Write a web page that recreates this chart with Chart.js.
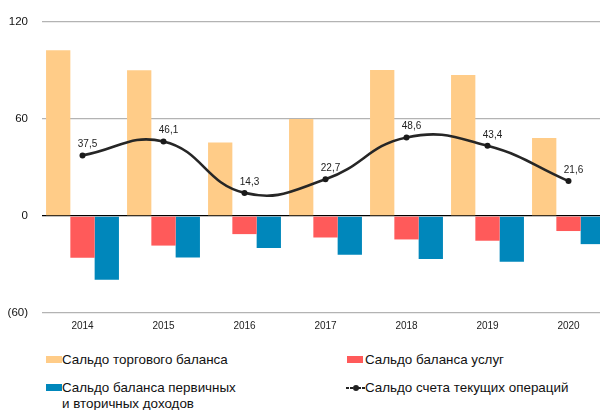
<!DOCTYPE html>
<html><head><meta charset="utf-8">
<script src="https://cdn.jsdelivr.net/npm/chart.js@4/dist/chart.umd.min.js"></script>
<style>
html,body{margin:0;padding:0;background:#fff;width:600px;height:410px;overflow:hidden;}
#wrap{position:absolute;left:0;top:0;width:620px;height:340px;}
.lg{position:absolute;font-family:"Liberation Sans",Arial,sans-serif;font-size:13.4px;color:#111;line-height:16px;white-space:nowrap;}
.box{position:absolute;width:16px;height:7px;}
</style></head>
<body>
<div id="wrap"><canvas id="c" width="620" height="340"></canvas></div>
<div class="box" style="left:46px;top:356px;background:#FFCC88"></div>
<div class="lg" style="left:62px;top:352px">Сальдо торгового баланса</div>
<div class="box" style="left:347px;top:356px;background:#FF5A5A"></div>
<div class="lg" style="left:365px;top:352px">Сальдо баланса услуг</div>
<div class="box" style="left:46px;top:384px;background:#0087BB"></div>
<div class="lg" style="left:62px;top:380px">Сальдо баланса первичных<br>и вторичных доходов</div>
<svg style="position:absolute;left:346px;top:381px" width="20" height="14"><line x1="0" y1="7" x2="20" y2="7" stroke="#222" stroke-width="2" stroke-dasharray="3,1"/><circle cx="10" cy="7" r="3" fill="#222"/></svg>
<div class="lg" style="left:365px;top:380px">Сальдо счета текущих операций</div>
<script>
const years = ['2014','2015','2016','2017','2018','2019','2020'];
const tradeBalance = [102.5, 90.2, 45.5, 60.0, 90.3, 87.2, 48.3];
const servicesBalance = [-25.8, -18.3, -11.2, -13.3, -14.5, -15.3, -9.3];
const incomeBalance = [-39.4, -25.6, -19.8, -24.0, -26.6, -28.3, -17.4];
const currentAccount = [37.5, 46.1, 14.3, 22.7, 48.6, 43.4, 21.6];
const currentAccountLabels = ['37,5','46,1','14,3','22,7','48,6','43,4','21,6'];
const yTicks = [-60, 0, 60, 120];

const labelPlugin = {
  id: 'pointLabels',
  afterDatasetsDraw(chart) {
    const ctx = chart.ctx;
    const meta = chart.getDatasetMeta(3);
    ctx.save();
    ctx.font = '10px "Liberation Sans", Arial, sans-serif';
    ctx.fillStyle = '#222';
    ctx.textAlign = 'center';
    ctx.textBaseline = 'middle';
    meta.data.forEach((pt, i) => {
      ctx.fillText(currentAccountLabels[i], pt.x + 5, pt.y - 11);
    });
    ctx.restore();
  }
};

new Chart(document.getElementById('c'), {
  type: 'bar',
  data: {
    labels: years,
    datasets: [
      {label:'Сальдо торгового баланса', data: tradeBalance, backgroundColor:'#FFCC88', order:2},
      {label:'Сальдо баланса услуг', data: servicesBalance, backgroundColor:'#FF5A5A', order:2},
      {label:'Сальдо баланса первичных и вторичных доходов', data: incomeBalance, backgroundColor:'#0087BB', order:2},
      {type:'line', label:'Сальдо счета текущих операций', data: currentAccount, borderColor:'#262626', borderWidth:2.6,
       tension:0.45, pointRadius:3, pointBackgroundColor:'#1a1a1a', pointBorderColor:'#1a1a1a', pointBorderWidth:0, fill:false, order:1}
    ]
  },
  options: {
    responsive:false, animation:false, devicePixelRatio:1,
    layout:{padding:{top:22, right:11, bottom:0, left:0}},
    datasets:{bar:{categoryPercentage:0.9, barPercentage:1.0}},
    plugins:{legend:{display:false}, tooltip:{enabled:false}},
    scales:{
      x:{
        grid:{display:false, drawTicks:false},
        border:{display:false},
        ticks:{font:{family:'"Liberation Sans", Arial, sans-serif', size:10}, color:'#222', padding:7, maxRotation:0},
        afterFit(s){ s.height = 27; }
      },
      y:{
        min:-60, max:120,
        afterBuildTicks(s){ s.ticks = yTicks.map(v => ({value:v})); },
        grid:{drawTicks:false, color:(c)=> c.tick && c.tick.value===0 ? '#000' : '#b3b3b3', lineWidth:1.3},
        border:{display:false},
        ticks:{font:{family:'"Liberation Sans", Arial, sans-serif', size:11.5}, color:'#111', padding:14,
          callback:(v)=> v<0 ? '('+Math.abs(v)+')' : String(v)},
        afterFit(s){ s.width = 42; }
      }
    }
  },
  plugins:[labelPlugin]
});
</script>
</body></html>
